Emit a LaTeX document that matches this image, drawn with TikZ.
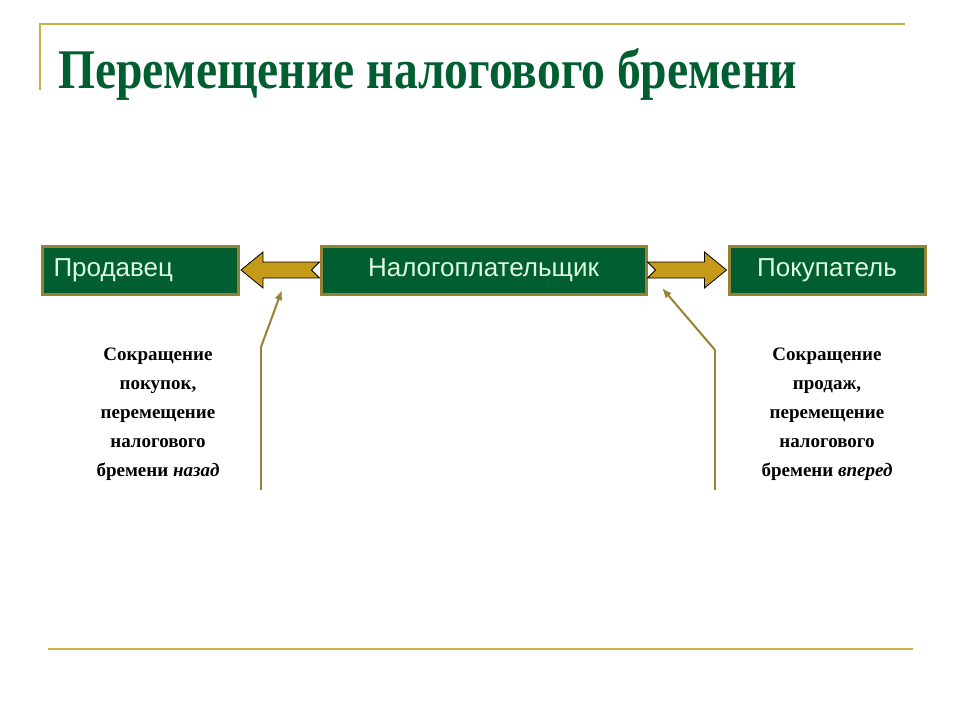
\documentclass[tikz,border=0pt]{standalone}
\usepackage{fontspec}
\setmainfont{Liberation Serif}
\newfontfamily\arialf{Liberation Sans}
\usetikzlibrary{arrows.meta}
\definecolor{dgreen}{RGB}{0,94,48}
\definecolor{olive}{RGB}{150,130,50}
\definecolor{gold}{RGB}{196,154,24}
\definecolor{lgreen}{RGB}{220,250,220}
\definecolor{deco}{RGB}{200,176,70}
\tikzset{
 box/.style={draw=olive,line width=3pt,fill=dgreen,text=lgreen,font=\arialf\fontsize{26}{30}\selectfont,minimum height=48pt,inner sep=0pt},
 barrow/.style={draw=black,line width=0.8pt,fill=gold},
 pointer/.style={draw=olive,line width=2pt},
 note/.style={align=center,font=\bfseries\fontsize{19}{29}\selectfont},
}
\begin{document}
\begin{tikzpicture}[x=1pt,y=-1pt]
\useasboundingbox (0,0) rectangle (960,720);
\draw[deco,line width=2pt] (40,90) -- (40,24) -- (905,24);
\draw[deco,line width=2pt] (48,649) -- (913,649);
\node[anchor=base west,text=dgreen,inner sep=0pt] (title) at (58,88) {\scalebox{0.85}[1]{\bfseries\fontsize{56}{60}\selectfont Перемещение налогового бремени}};
\node[box,minimum width=196pt,anchor=west,text width=190pt,align=left] (s) at (41,270) {\hspace{8pt}Продавец};
\node[box,minimum width=325pt] (t) at (483.5,270) {Налогоплательщик};
\node[box,minimum width=196pt] (b) at (827,270) {Покупатель};
% left block arrow (notched tail)
\draw[barrow] (s.east) ++(1,0) coordinate (la)
  -- ++(22,-18) -- ++(0,10) -- (t.west |- 0,262) -- ++(-8,8) -- ++(8,8) -- ([xshift=23pt]s.east |- 0,278) -- ++(0,10) -- cycle;
\draw[barrow] (b.west) ++(-1,0) coordinate (ra)
  -- ++(-22,-18) -- ++(0,10) -- (t.east |- 0,262) -- ++(8,8) -- ++(-8,8) -- ([xshift=-23pt]b.west |- 0,278) -- ++(0,10) -- cycle;
\coordinate (lk) at (261,347);
\coordinate (lb) at (261,490);
\coordinate (rk) at (715,350);
\coordinate (rb) at (715,490);
\draw[pointer] (lb) -- (lk);
\draw[pointer,-{Latex[length=10pt,width=8pt]}] (lk) -- (282,290);
\draw[pointer] (rb) -- (rk);
\draw[pointer,-{Latex[length=10pt,width=8pt]}] (rk) -- (662,288);
\node[note,anchor=north] (nl) at (158,344) {Сокращение\\покупок,\\перемещение\\налогового\\бремени \textit{назад}};
\node[note,anchor=north] (nr) at (827,344) {Сокращение\\продаж,\\перемещение\\налогового\\бремени \textit{вперед}};
\end{tikzpicture}
\end{document}
